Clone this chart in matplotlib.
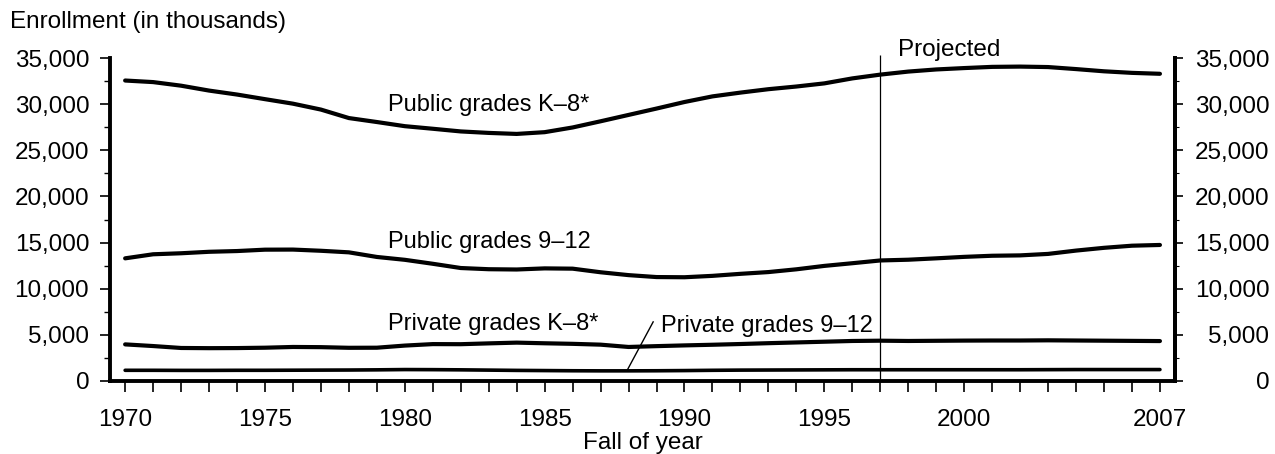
import matplotlib
matplotlib.use("Agg")
import matplotlib.pyplot as plt
from matplotlib.ticker import FuncFormatter, MultipleLocator, FixedLocator

plt.rcParams['font.family'] = ['Liberation Sans', 'DejaVu Sans']

years = list(range(1970, 2008))
public_k8 = [32570, 32400, 32010, 31480, 31050, 30550, 30060, 29420, 28500, 28070,
             27620, 27340, 27050, 26890, 26780, 26970, 27480, 28150, 28840, 29530,
             30240, 30850, 31260, 31630, 31920, 32260, 32800, 33210, 33540, 33770,
             33920, 34050, 34080, 34030, 33810, 33570, 33400, 33300]
public_912 = [13290, 13730, 13840, 14000, 14080, 14230, 14240, 14110, 13940, 13440,
              13130, 12700, 12240, 12110, 12080, 12200, 12170, 11780, 11470, 11260,
              11240, 11390, 11610, 11800, 12100, 12470, 12760, 13060, 13140, 13290,
              13450, 13570, 13610, 13770, 14130, 14430, 14660, 14740]
private_k8 = [3960, 3780, 3570, 3550, 3560, 3600, 3680, 3660, 3590, 3600,
              3830, 3990, 3980, 4070, 4150, 4080, 4020, 3930, 3680, 3770,
              3850, 3920, 4000, 4090, 4170, 4250, 4330, 4360, 4330, 4350,
              4370, 4380, 4380, 4400, 4380, 4360, 4340, 4320]
private_912 = [1150, 1150, 1140, 1140, 1150, 1150, 1160, 1170, 1180, 1200,
               1230, 1220, 1200, 1170, 1140, 1120, 1100, 1090, 1090, 1100,
               1120, 1150, 1170, 1180, 1190, 1200, 1210, 1210, 1210, 1210,
               1210, 1210, 1210, 1220, 1230, 1230, 1230, 1230]

xtick_labels = ['1970', '1975', '1980', '1985', '1990', '1995', '2000', '2007']
ytick_values = [0, 5000, 10000, 15000, 20000, 25000, 30000, 35000]
projected_year = 1997

series_labels = ['Public grades K\u20138*', 'Public grades 9\u201312',
                 'Private grades K\u20138*', 'Private grades 9\u201312']

fig = plt.figure(figsize=(12.75, 4.54), dpi=100)
ax = fig.add_axes([0.0863, 0.161, 0.9216 - 0.0863, 0.711])

lw = 3.0
ax.plot(years, public_k8, color='black', lw=lw, solid_capstyle='round')
ax.plot(years, public_912, color='black', lw=lw, solid_capstyle='round')
ax.plot(years, private_k8, color='black', lw=lw, solid_capstyle='round')
ax.plot(years, private_912, color='black', lw=2.6, solid_capstyle='round')

ax.set_xlim(1969.46, 2007.54)
ax.set_ylim(0, 35000)

# projected divider
ax.vlines(projected_year, 0, 35300, color='black', lw=0.9, clip_on=False)

# spines
for s in ['left', 'bottom', 'right']:
    ax.spines[s].set_linewidth(2.8)
ax.spines['top'].set_visible(False)

tfs = 17.5
fmt = FuncFormatter(lambda v, p: f"{int(v):,}")
ax.yaxis.set_major_locator(FixedLocator(ytick_values))
ax.yaxis.set_minor_locator(MultipleLocator(2500))
ax.yaxis.set_major_formatter(fmt)
ax.tick_params(axis='y', which='major', direction='out', length=7, width=1.2,
               labelsize=tfs, pad=8)
ax.tick_params(axis='y', which='minor', direction='out', length=4, width=1.0)

ax.xaxis.set_major_locator(FixedLocator([int(t) for t in xtick_labels]))
ax.set_xticklabels(xtick_labels)
ax.xaxis.set_minor_locator(FixedLocator(years))
ax.tick_params(axis='x', which='major', direction='out', length=8, width=1.2,
               labelsize=tfs, pad=12)
ax.tick_params(axis='x', which='minor', direction='out', length=8, width=1.2)

# right axis
ax2 = ax.twinx()
ax2.set_ylim(0, 35000)
ax2.yaxis.set_major_locator(FixedLocator(ytick_values))
ax2.yaxis.set_minor_locator(MultipleLocator(2500))
ax2.yaxis.set_major_formatter(fmt)
for s in ['left', 'bottom', 'top']:
    ax2.spines[s].set_visible(False)
ax2.spines['right'].set_linewidth(2.8)
ax2.tick_params(axis='y', which='major', direction='out', length=6, width=1.2,
                labelsize=tfs, pad=62)
ax2.tick_params(axis='y', which='minor', direction='out', length=3, width=0.8)
for lab in ax2.get_yticklabels():
    lab.set_horizontalalignment('right')

# series labels
fs = 17
ax.text(1979.4, 29250, series_labels[0], fontsize=fs, va='baseline', ha='left')
ax.text(1979.4, 14400, series_labels[1], fontsize=fs, va='baseline', ha='left')
ax.text(1979.4, 5490, series_labels[2], fontsize=fs, va='baseline', ha='left')
ax.text(1989.15, 5310, series_labels[3], fontsize=fs, va='baseline', ha='left')
ax.plot([1988.88, 1987.95], [6400, 1150], color='black', lw=1.0)
ax.text(1997.65, 35180, 'Projected', fontsize=17.5, va='baseline', ha='left',
        clip_on=False)

fig.text(0.008, 0.938, 'Enrollment (in thousands)', fontsize=17.5,
         va='baseline', ha='left')
fig.text(643 / 1275, 0.012, 'Fall of year', fontsize=17.5, va='baseline',
         ha='center')

fig.savefig('out.png', dpi=100)
